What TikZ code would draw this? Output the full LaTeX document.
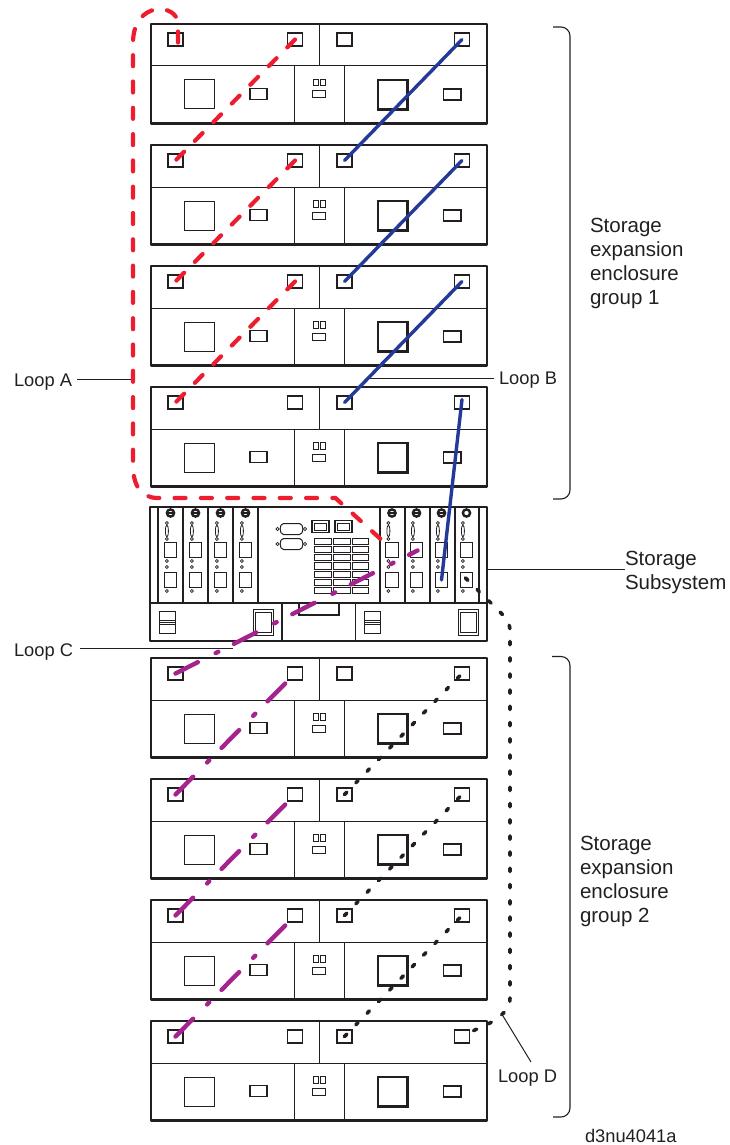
\documentclass[tikz,border=0pt]{standalone}
\usepackage{fontspec}
\setmainfont{Liberation Sans}
\usetikzlibrary{calc}
\definecolor{ink}{HTML}{231F20}
\definecolor{redloop}{HTML}{ED1C2E}
\definecolor{blueloop}{HTML}{233A97}
\definecolor{purpleloop}{HTML}{A4238E}
\tikzset{
  every node/.style={inner sep=0pt,outer sep=0pt},
  box/.style={draw=ink,line width=2.2pt,line join=round},
  fine/.style={draw=ink,line width=1pt},
  mid/.style={draw=ink,line width=1.7pt},
  port/.style={draw=ink,line width=1.6pt,rectangle,minimum width=15pt,minimum height=13.5pt},
  loopa/.style={draw=redloop,line width=4.2pt,line cap=round,dash pattern=on 11pt off 15.3pt},
  loopb/.style={draw=blueloop,line width=3.4pt,line cap=round},
  loopc/.style={draw=purpleloop,line width=4.4pt,line cap=round,dash pattern=on 25pt off 20pt on 3pt off 17.5pt},
  loopd/.style={draw=ink,line width=3.6pt,line cap=round,dash pattern=on 3.4pt off 12.8pt},
  leader/.style={draw=ink,line width=1pt},
  bracket/.style={draw=ink,line width=1.1pt,rounded corners=9pt},
  biglab/.style={text=ink,align=left,anchor=north west,font=\fontsize{20.5}{24}\selectfont},
  smalllab/.style={text=ink,anchor=base west,font=\fontsize{18.3}{22}\selectfont}
}
\begin{document}
\begin{tikzpicture}[x=1pt,y=-1pt]
\useasboundingbox (0,0) rectangle (730,1145);
% enclosures
\foreach \n/\y in {a/24,b/145,c/266,d/387,e/658,f/779,g/900,h/1021}{
  \draw[box] (151,\y) rectangle (487,\y+99.5);
  \draw[fine] (151,\y+42) -- (487,\y+42);
  \draw[fine] (319,\y) -- (319,\y+42);
  \draw[fine] (294,\y+42) -- (294,\y+99.5) (344,\y+42) -- (344,\y+99.5);
  \node[port] (\n1) at (175.5,\y+15.5) {};
  \node[port] (\n2) at (295,\y+15.5) {};
  \node[port] (\n3) at (344.5,\y+15.5) {};
  \node[port] (\n4) at (462,\y+15.5) {};
  \draw[fine] (184,\y+56) rectangle (214,\y+85);
  \draw[draw=ink,line width=2.4pt] (378,\y+56) rectangle (407.5,\y+85.5);
  \draw[mid] (250,\y+64.5) rectangle (267,\y+75.5);
  \draw[mid] (443.5,\y+65) rectangle (461,\y+76);
  \draw[fine] (313,\y+55.5) rectangle (318.5,\y+62) (320,\y+55.5) rectangle (325.5,\y+62) (312,\y+67) rectangle (325.5,\y+74);
}
% subsystem
\draw[box,line width=2.6pt] (150,507) rectangle (487,641);
\draw[fine,line width=1.1pt] (150,603) -- (487,603);
\foreach \x in {158,183,208,233,258,380,405,430,455,479}{\draw[fine,line width=1.1pt] (\x,507) -- (\x,603);}
\draw[fine,line width=1.1pt] (282,603) -- (282,641) (355.7,603) -- (355.7,641);
\draw[fine,line width=1.1pt] (299,603) -- (299,615) -- (339,615) -- (339,603);
\foreach \i/\cx in {1/170.5,2/195.5,3/220.5,4/245.5,5/392,6/416.5,7/441.5,8/466.5}{
  \draw[draw=ink,line width=2.4pt] (\cx,513) circle (3.6pt);
  \ifnum\i<8 \draw[draw=ink,line width=1.6pt] (\cx-4,513) -- (\cx+4,513); \fi
  \node[draw=ink,line width=1pt,rectangle,minimum width=12.8pt,minimum height=15pt] (u\i) at (\cx,549.5) {};
  \node[draw=ink,line width=1pt,rectangle,minimum width=12.8pt,minimum height=15.5pt] (w\i) at (\cx,580) {};
  \draw[fine,line width=.8pt] (\cx-3.6,531) ellipse (1.5pt and 6pt);
  \foreach \yy in {523,539,561,567,591}{\draw[fine,line width=.8pt,fill=white] (\cx-3.6,\yy) circle (1.5pt);}
}
% centre block
\foreach \yy in {523.5,538.5}{
  \draw[fine] (283.5,\yy) -- (299.5,\yy) .. controls (304,\yy) and (304,\yy+11) .. (299.5,\yy+11) -- (283.5,\yy+11) .. controls (279,\yy+11) and (279,\yy) .. (283.5,\yy) -- cycle;
  \draw[fine,line width=.8pt] (277.5,\yy+5.5) circle (1.6pt) (305,\yy+5.5) circle (1.6pt);
}
\foreach \x in {312,335}{
  \draw[draw=ink,line width=1.5pt] (\x,520.5) rectangle (\x+17,532.5);
  \draw[fine,line width=.7pt] (\x+2.5,523) rectangle (\x+14.5,530);
}
\foreach \yy in {538,546.3,554.5,562.7,571,579,587.5}{
  \draw[fine] (314.5,\yy) rectangle (331.5,\yy+6.3) (333.5,\yy) rectangle (350,\yy+6.3) (352,\yy) rectangle (368,\yy+6.3);
}
\foreach \x in {159,364}{
  \draw[fine] (\x,611) rectangle (\x+16,633);
  \draw[fine,line width=.7pt] (\x,620) -- (\x+16,620) (\x,622) -- (\x+16,622) (\x,624) -- (\x+16,624);
}
\foreach \x in {253,458}{
  \draw[fine] (\x,609.5) rectangle (\x+20.5,635);
  \draw[fine] (\x+2.5,612) rectangle (\x+18,632.5);
}
% brackets
\coordinate (ba) at (553,27); \coordinate (bb) at (553,499);
\coordinate (bc) at (552,656.5); \coordinate (bd) at (553,1117);
\draw[bracket] (ba) -- (570,27) -- (570,499) -- (bb);
\draw[bracket] (bc) -- (570,656.5) -- (570,1117) -- (bd);
% labels
\node[smalllab] (labA) at (14,386) {Loop A};
\node[smalllab] (labB) at (499,384) {Loop B};
\node[smalllab] (labC) at (14,656) {Loop C};
\node[smalllab] (labD) at (498,1082) {Loop D};
\node[smalllab] (labRef) at (585,1142) {d3nu4041a};
\node[biglab] (labOne) at (590,218) {Storage\\expansion\\enclosure\\group 1};
\node[biglab] (labTwo) at (580,836) {Storage\\expansion\\enclosure\\group 2};
\node[biglab] (labSub) at (625,551) {Storage\\Subsystem};
% leaders
\coordinate (lat) at (131,379); \coordinate (las) at (77,379);
\coordinate (lbt) at (368,378); \coordinate (lbs) at (494,378);
\coordinate (lct) at (233,648); \coordinate (lcs) at (80,648);
\coordinate (ldt) at (503,1016); \coordinate (lds) at (531,1062);
\coordinate (sst) at (488,569); \coordinate (sss) at (625,569);
\draw[leader] (las) -- (lat);
\draw[leader] (lbs) -- (lbt);
\draw[leader] (lcs) -- (lct);
\draw[leader] (lds) -- (ldt);
\draw[leader] (sss) -- (sst);
% loop A
\draw[loopa] ([shift={(2.5,3)}]a1.center) -- (178,24) .. controls (178,3) and (133,0) .. (133,43) -- (133,465) .. controls (133,487) and (142,498) .. (158,498) -- (335.5,498) -- ([shift={(-0.5,-0.5)}]u5.center);
\foreach \s/\t in {a2/b1,b2/c1,c2/d1}{\draw[loopa] (\s.center) -- (\t.center);}
% loop B
\foreach \s/\t in {a4/b3,b4/c3,c4/d3}{\draw[loopb] (\s.center) -- (\t.center);}
\draw[loopb] ([yshift=3pt]d4.center) -- (w7.center);
% loop C
\draw[loopc] (e1.center) -- ([shift={(1,1)}]u6.center);
\foreach \s/\t in {f1/e2,g1/f2,h1/g2}{\draw[loopc] (\s.center) -- (\t.center);}
% loop D
\foreach \s/\t in {f3/e4,g3/f4,h3/g4}{\draw[loopd] (\s.center) -- (\t.center);}
\draw[loopd] ([shift={(-1,-2)}]w8.center) -- (500,612) .. controls (507,619) and (510,623) .. (510,632) -- (510,998) .. controls (510,1008) and (505,1013) .. (492,1022) -- ([shift={(1,-1)}]h4.center);
\end{tikzpicture}
\end{document}
